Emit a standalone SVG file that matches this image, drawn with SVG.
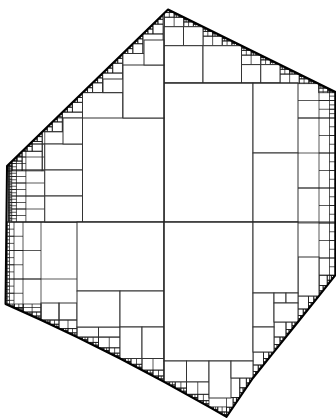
<svg xmlns="http://www.w3.org/2000/svg" width="336" height="418" viewBox="0 0 336 418">
<style>
.f{fill:none;stroke:#111;stroke-width:.7px;vector-effect:non-scaling-stroke}
.c{fill:#fff;stroke:#333;stroke-width:1px}
.k{fill:none;stroke:#333;stroke-width:1px}
.m{fill:none;stroke:#222;stroke-width:1.2px}
.b{fill:none;stroke:#000;stroke-width:2px;stroke-linejoin:round}
</style>
<defs>
<clipPath id="cp"><path d="M168,9.5 L335.5,92 L335.5,275 L319,296 L298,322 L274,352 L253,378 L226.5,417 L209,406.9 L164,381.8 L120,358.5 L77,337.1 L41,320 L5.5,304 L7,166 Z"/></clipPath>
<path id="n0" class="f" d="M.5,.5H1V1H.5Z"/>
<g id="n1"><use href="#n0"/><use href="#n0" transform="translate(0,.5) scale(.5)"/><use href="#n0" transform="translate(.5,0) scale(.5)"/></g>
<g id="n2"><use href="#n0"/><use href="#n1" transform="translate(0,.5) scale(.5)"/><use href="#n1" transform="translate(.5,0) scale(.5)"/></g>
<g id="n3"><use href="#n0"/><use href="#n2" transform="translate(0,.5) scale(.5)"/><use href="#n2" transform="translate(.5,0) scale(.5)"/></g>
<g id="n4"><use href="#n0"/><use href="#n3" transform="translate(0,.5) scale(.5)"/><use href="#n3" transform="translate(.5,0) scale(.5)"/></g>
<path id="p0" class="f" d="M.5,.5H1V1H.5ZM.75,.5V1"/>
<g id="p1"><use href="#p0"/><use href="#p0" transform="translate(0,.5) scale(.5)"/><use href="#p0" transform="translate(.5,0) scale(.5)"/></g>
<g id="p2"><use href="#p0"/><use href="#p1" transform="translate(0,.5) scale(.5)"/><use href="#p1" transform="translate(.5,0) scale(.5)"/></g>
<g id="p3"><use href="#p0"/><use href="#p2" transform="translate(0,.5) scale(.5)"/><use href="#p2" transform="translate(.5,0) scale(.5)"/></g>
<g id="p4"><use href="#p0"/><use href="#p3" transform="translate(0,.5) scale(.5)"/><use href="#p3" transform="translate(.5,0) scale(.5)"/></g>
<path id="v0" class="f" d="M1,0H.5V1H1M.5,.5H1"/>
<g id="v1"><use href="#v0"/><use href="#v0" transform="scale(.5)"/><use href="#v0" transform="translate(0,.5) scale(.5)"/></g>
<g id="v2"><use href="#v0"/><use href="#v1" transform="scale(.5)"/><use href="#v1" transform="translate(0,.5) scale(.5)"/></g>
<g id="v3"><use href="#v0"/><use href="#v2" transform="scale(.5)"/><use href="#v2" transform="translate(0,.5) scale(.5)"/></g>
<g id="v4"><use href="#v0"/><use href="#v3" transform="scale(.5)"/><use href="#v3" transform="translate(0,.5) scale(.5)"/></g>
<g id="v5"><use href="#v0"/><use href="#v4" transform="scale(.5)"/><use href="#v4" transform="translate(0,.5) scale(.5)"/></g>
</defs>
<rect width="336" height="418" fill="#fff"/>
<g id="fringe" clip-path="url(#cp)">
<use href="#v5" transform="translate(7,118) scale(75.5,52)"/>
<use href="#v5" transform="translate(7,170) scale(75.5,52)"/>
<use href="#v5" transform="translate(5,222) scale(72,114)"/>
<use href="#n4" transform="translate(2,131.7) scale(40.25,39.2)"/>
<use href="#n4" transform="translate(42.25,92.6) scale(40.25,39.1)"/>
<use href="#n4" transform="translate(82.5,53.5) scale(40.25,39.1)"/>
<use href="#n4" transform="translate(122.75,14.4) scale(40.25,39.1)"/>
<rect class="k" x="42.25" y="131.7" width="40.25" height="39.1"/>
<rect class="k" x="82.5" y="92.6" width="40.25" height="39.1"/>
<rect class="k" x="122.75" y="53.5" width="40.25" height="39.1"/>
<use href="#p4" transform="translate(203,7.8) scale(-38.5,18.9)"/>
<use href="#p4" transform="translate(241.5,26.7) scale(-38.5,19)"/>
<use href="#p4" transform="translate(280,45.7) scale(-38.5,18.9)"/>
<use href="#p4" transform="translate(318.5,64.6) scale(-38.5,19)"/>
<use href="#p4" transform="translate(337,83.6) scale(-18.5,9.1)"/>
<use href="#v5" transform="translate(340,83) scale(-42,35)"/>
<use href="#v5" transform="translate(340,118) scale(-42,70)"/>
<use href="#v5" transform="translate(340,188) scale(-42,70)"/>
<use href="#v5" transform="translate(340,258) scale(-42,70)"/>
<use href="#n4" transform="translate(335.5,296) scale(-16.5,-21)"/>
<use href="#n4" transform="translate(319,322) scale(-21,-26)"/>
<use href="#n4" transform="translate(298,352) scale(-24,-30)"/>
<use href="#n4" transform="translate(274,378) scale(-21,-26)"/>
<use href="#n4" transform="translate(253,417) scale(-26.5,-39)"/>
<use href="#p4" transform="translate(5.5,320) scale(35.5,-16)"/>
<use href="#p4" transform="translate(41,337.1) scale(36,-17.1)"/>
<use href="#p4" transform="translate(77,358.5) scale(43,-21.4)"/>
<use href="#p4" transform="translate(120,381.8) scale(44,-23.3)"/>
<use href="#p4" transform="translate(164,406.9) scale(45,-25.1)"/>
<use href="#p4" transform="translate(209,417) scale(17.5,-10.1)"/>
<rect class="k" x="41" y="303" width="18" height="17"/>
<rect class="k" x="59" y="303" width="18" height="17"/>
<rect class="k" x="77" y="327" width="21.5" height="10.1"/>
<rect class="k" x="98.5" y="327" width="21.5" height="10.1"/>
</g>
<g id="cells" clip-path="url(#cp)">
<rect class="c" x="164" y="26.7" width="19.5" height="19"/>
<rect class="c" x="183.5" y="26.7" width="19.5" height="19"/>
<rect class="c" x="164" y="45.7" width="39" height="37.3"/>
<rect class="c" x="203" y="45.7" width="38.5" height="37.3"/>
<rect class="c" x="241.5" y="64.6" width="19.25" height="18.4"/>
<rect class="c" x="260.75" y="64.6" width="19.25" height="18.4"/>
<rect class="c" x="164" y="83" width="89" height="139"/>
<rect class="c" x="253" y="83" width="45" height="70"/>
<rect class="c" x="253" y="153" width="45" height="69"/>
<rect class="c" x="298" y="257" width="21" height="39"/>
<rect class="c" x="44.75" y="144" width="37.75" height="26"/>
<rect class="c" x="44.75" y="170" width="37.75" height="26"/>
<rect class="c" x="44.75" y="196" width="37.75" height="26"/>
<rect class="c" x="63" y="118" width="19.5" height="26"/>
<rect class="c" x="82.5" y="118" width="81.5" height="104"/>
<rect class="c" x="103" y="79" width="20" height="13.6"/>
<rect class="c" x="123" y="65" width="41" height="53"/>
<rect class="c" x="144" y="40" width="20" height="25"/>
<rect class="c" x="77" y="222" width="87" height="69"/>
<rect class="c" x="77" y="291" width="43" height="36"/>
<rect class="c" x="120" y="291" width="44" height="36"/>
<rect class="c" x="120" y="327" width="22" height="31.5"/>
<rect class="c" x="142" y="327" width="22" height="31.5"/>
<rect class="c" x="164" y="222" width="89" height="139"/>
<rect class="c" x="164" y="361" width="22.5" height="20.8"/>
<rect class="c" x="186.5" y="361" width="22.5" height="20.8"/>
<rect class="c" x="209" y="361" width="22" height="37"/>
<rect class="c" x="231" y="361" width="22" height="17"/>
<rect class="c" x="253" y="222" width="45" height="71"/>
<rect class="c" x="253" y="293" width="21" height="34"/>
<rect class="c" x="274" y="293" width="12" height="10"/>
<rect class="c" x="286" y="293" width="12" height="10"/>
<rect class="c" x="274" y="303" width="24" height="19"/>
<rect class="c" x="253" y="327" width="21" height="25"/>
<path class="m" d="M164,8V382 M7,222H335.5 M164,83H298"/>
</g>
<path id="outline" class="b" d="M168,9.5 L335.5,92 L335.5,275 L319,296 L298,322 L274,352 L253,378 L226.5,417 L209,406.9 L164,381.8 L120,358.5 L77,337.1 L41,320 L5.5,304 L7,166 Z"/>
</svg>
